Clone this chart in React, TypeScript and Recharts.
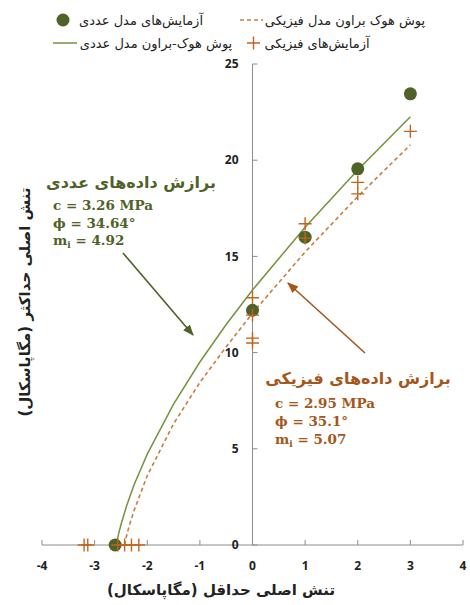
import React from 'react';
import { ScatterChart, Scatter, XAxis, YAxis, ReferenceLine, Legend } from 'recharts';

// axis ticks
const xTicks = [-4, -3, -2, -1, 0, 1, 2, 3, 4];
const yTicks = [0, 5, 10, 15, 20, 25];

// numerical model tests (sigma3, sigma1) in MPa
const numericalTests = [
  { x: -2.61, y: 0 },
  { x: 0, y: 12.2 },
  { x: 1, y: 16.0 },
  { x: 2, y: 19.55 },
  { x: 3, y: 23.45 },
];

// physical model tests
const physicalTests = [
  { x: -3.2, y: 0 },
  { x: -3.13, y: 0 },
  { x: -2.56, y: 0 },
  { x: -2.43, y: 0 },
  { x: -2.3, y: 0 },
  { x: -2.16, y: 0 },
  { x: 0, y: 12.85 },
  { x: 0, y: 11.95 },
  { x: 0, y: 10.75 },
  { x: 0, y: 10.5 },
  { x: 1, y: 16.7 },
  { x: 1, y: 15.95 },
  { x: 2, y: 18.85 },
  { x: 2, y: 18.25 },
  { x: 3, y: 21.5 },
];

// Hoek-Brown envelope, numerical model
const numericalEnvelope = [
  { x: -2.59, y: 0 },
  { x: -2.55, y: 0.51 },
  { x: -2.5, y: 1.05 },
  { x: -2.4, y: 1.97 },
  { x: -2.25, y: 3.13 },
  { x: -2, y: 4.72 },
  { x: -1.5, y: 7.32 },
  { x: -1, y: 9.51 },
  { x: -0.5, y: 11.46 },
  { x: 0, y: 13.25 },
  { x: 1, y: 16.52 },
  { x: 2, y: 19.49 },
  { x: 3, y: 22.26 },
];

// Hoek-Brown envelope, physical model
const physicalEnvelope = [
  { x: -2.43, y: 0 },
  { x: -2.4, y: 0.4 },
  { x: -2.35, y: 0.92 },
  { x: -2.25, y: 1.8 },
  { x: -2, y: 3.6 },
  { x: -1.5, y: 6.3 },
  { x: -1, y: 8.45 },
  { x: -0.5, y: 10.3 },
  { x: 0, y: 12.05 },
  { x: 1, y: 15.23 },
  { x: 2, y: 18.11 },
  { x: 3, y: 20.8 },
];

const W = 470;
const H = 605;
const PLOT_LEFT = 42;
const PLOT_RIGHT = 463;
const PLOT_TOP = 64;
const PLOT_BOTTOM = 545;
const ZERO_X = PLOT_LEFT + (PLOT_RIGHT - PLOT_LEFT) / 2;
const Y_AXIS_W = 20;

const GREEN_DOT = '#4f6228';
const GREEN_LINE = '#76923c';
const ORANGE = '#c0651e';
const ORANGE_DASH = '#c97d3e';
const ORANGE_TEXT = '#a5561a';
const AXIS = '#8c8c8c';
const FA_FONT = '"DejaVu Sans", sans-serif';
const NUM_FONT = '"Open Sans", "Noto Sans", sans-serif';
const MATH_FONT = '"DejaVu Serif", serif';

const XTick = (props: any) => {
  const { x, payload } = props;
  return (
    <g>
      <line x1={x} x2={x} y1={PLOT_BOTTOM} y2={PLOT_BOTTOM - 5} stroke={AXIS} />
      <text x={x} y={PLOT_BOTTOM + 25} textAnchor="middle" fontFamily={NUM_FONT} fontWeight={700} fontSize={12} fill="#222">
        {payload.value}
      </text>
    </g>
  );
};

// y ticks are drawn along the vertical axis at x = 0
const YTick = (props: any) => {
  const { y, payload } = props;
  return (
    <g>
      <line x1={ZERO_X} x2={ZERO_X + 5} y1={y} y2={y} stroke={AXIS} />
      <text x={ZERO_X - 14} y={y} dy="0.35em" textAnchor="end" fontFamily={NUM_FONT} fontWeight={700} fontSize={12} fill="#222">
        {payload.value}
      </text>
    </g>
  );
};

const Dot = (p: any) => <circle cx={p.cx} cy={p.cy} r={6.5} fill={GREEN_DOT} />;

const Plus = (p: any) => (
  <path
    d={`M${p.cx - 6.5},${p.cy}H${p.cx + 6.5}M${p.cx},${p.cy - 6.5}V${p.cy + 6.5}`}
    stroke={ORANGE}
    strokeWidth={1.4}
    fill="none"
  />
);

const NoShape = () => <g />;

const LegendBox = () => (
  <svg width={W} height={58} style={{ display: 'block' }}>
    <g fontFamily={FA_FONT} fontSize={13} fill="#222">
      <circle cx={63} cy={20} r={6.5} fill={GREEN_DOT} />
      <text x={141} y={25} textAnchor="middle" direction="rtl">آزمایش‌های مدل عددی</text>
      <line x1={240} x2={263} y1={20} y2={20} stroke={ORANGE_DASH} strokeWidth={1.5} strokeDasharray="4 3" />
      <text x={345} y={25} textAnchor="middle" direction="rtl">پوش هوک براون مدل فیزیکی</text>
      <line x1={53} x2={77} y1={43} y2={43} stroke={GREEN_LINE} strokeWidth={1.5} />
      <text x={156} y={48} textAnchor="middle" direction="rtl">پوش هوک-براون مدل عددی</text>
      <path d="M247,43H260M253.5,36.5V49.5" stroke={ORANGE} strokeWidth={1.4} />
      <text x={317} y={48} textAnchor="middle" direction="rtl">آزمایش‌های فیزیکی</text>
    </g>
  </svg>
);

const Annotations = () => (
  <svg width={W} height={H} style={{ position: 'absolute', left: 0, top: 0, pointerEvents: 'none' }}>
    <defs>
      <marker id="ahG" viewBox="0 0 10 10" refX="9" refY="5" markerWidth="7" markerHeight="7" orient="auto">
        <path d="M0,1L10,5L0,9z" fill={GREEN_DOT} />
      </marker>
      <marker id="ahO" viewBox="0 0 10 10" refX="9" refY="5" markerWidth="7" markerHeight="7" orient="auto">
        <path d="M0,1L10,5L0,9z" fill={ORANGE_TEXT} />
      </marker>
    </defs>
    <g fill={GREEN_DOT} fontWeight={700}>
      <text x={131} y={188} textAnchor="middle" direction="rtl" fontFamily={FA_FONT} fontSize={16}>برازش داده‌های عددی</text>
      <text x={53} y={210} fontFamily={MATH_FONT} fontSize={13.5}>c = 3.26 MPa</text>
      <text x={53} y={228} fontFamily={MATH_FONT} fontSize={13.5}>ϕ = 34.64°</text>
      <text x={53} y={245} fontFamily={MATH_FONT} fontSize={13.5}>
        m<tspan fontSize={9} dy={3}>i</tspan><tspan dy={-3}> = 4.92</tspan>
      </text>
    </g>
    <line x1={123} y1={253} x2={193} y2={335} stroke={GREEN_DOT} strokeWidth={1.6} markerEnd="url(#ahG)" />
    <g fill={ORANGE_TEXT} fontWeight={700}>
      <text x={358} y={384} textAnchor="middle" direction="rtl" fontFamily={FA_FONT} fontSize={16}>برازش داده‌های فیزیکی</text>
      <text x={275} y={408} fontFamily={MATH_FONT} fontSize={13.5}>c = 2.95 MPa</text>
      <text x={275} y={426} fontFamily={MATH_FONT} fontSize={13.5}>ϕ = 35.1°</text>
      <text x={275} y={444} fontFamily={MATH_FONT} fontSize={13.5}>
        m<tspan fontSize={9} dy={3}>i</tspan><tspan dy={-3}> = 5.07</tspan>
      </text>
    </g>
    <line x1={365} y1={353} x2={288} y2={283} stroke={ORANGE_TEXT} strokeWidth={1.6} markerEnd="url(#ahO)" />
    <g fontFamily={FA_FONT} fontWeight={700} fontSize={15} fill="#222">
      <text x={221} y={595} textAnchor="middle" direction="rtl">تنش اصلی حداقل (مگاپاسکال)</text>
      <text x={0} y={0} transform="translate(30,302) rotate(-90)" textAnchor="middle" direction="rtl">
        تنش اصلی حداکثر (مگاپاسکال)
      </text>
    </g>
  </svg>
);

export default function App() {
  return (
    <div style={{ position: 'absolute', left: 0, top: 0, width: W, height: H, background: '#fff' }}>
      <ScatterChart
        width={W}
        height={H}
        margin={{ top: PLOT_TOP, right: W - PLOT_RIGHT, bottom: H - PLOT_BOTTOM - 30, left: PLOT_LEFT - Y_AXIS_W }}
      >
        <XAxis
          type="number"
          dataKey="x"
          domain={[-4, 4]}
          ticks={xTicks}
          height={30}
          stroke={AXIS}
          tickLine={false}
          tick={<XTick />}
          interval={0}
        />
        <YAxis
          type="number"
          dataKey="y"
          domain={[0, 25]}
          ticks={yTicks}
          width={Y_AXIS_W}
          axisLine={false}
          tickLine={false}
          tick={<YTick />}
          interval={0}
        />
        <ReferenceLine x={0} stroke={AXIS} strokeWidth={1} />
        <Legend
          layout="horizontal"
          verticalAlign="middle"
          align="center"
          wrapperStyle={{ position: 'absolute', top: 0, left: 0, width: W, height: 58 }}
          content={() => <LegendBox />}
        />
        <Scatter
          name="پوش هوک-براون مدل عددی"
          data={numericalEnvelope}
          line={{ stroke: GREEN_LINE, strokeWidth: 1.5 }}
          shape={<NoShape />}
          isAnimationActive={false}
        />
        <Scatter
          name="پوش هوک براون مدل فیزیکی"
          data={physicalEnvelope}
          line={{ stroke: ORANGE_DASH, strokeWidth: 1.6, strokeDasharray: '4 3' }}
          shape={<NoShape />}
          isAnimationActive={false}
        />
        <Scatter name="آزمایش‌های مدل عددی" data={numericalTests} shape={<Dot />} isAnimationActive={false} />
        <Scatter name="آزمایش‌های فیزیکی" data={physicalTests} shape={<Plus />} isAnimationActive={false} />
      </ScatterChart>
      <Annotations />
    </div>
  );
}
